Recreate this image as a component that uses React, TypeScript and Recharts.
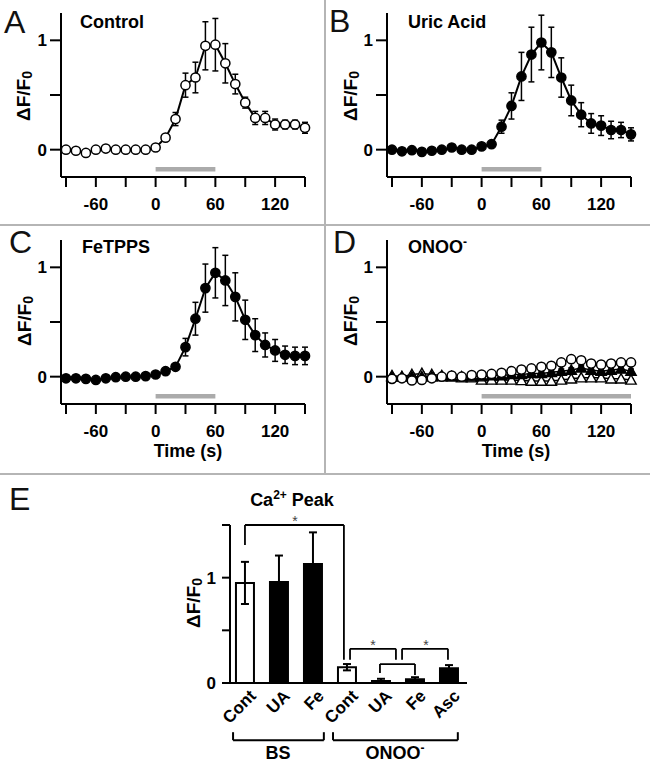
import React from 'react';
import { ComposedChart, Line, XAxis, YAxis, ErrorBar, ReferenceLine, BarChart, Bar, Cell, LabelList } from 'recharts';

const FONT = '"Liberation Sans", Arial, Helvetica, sans-serif';

// ---------- time-course data (s) ----------
const timeSec = [-90, -80, -70, -60, -50, -40, -30, -20, -10, 0, 10, 20, 30, 40, 50, 60, 70, 80, 90, 100, 110, 120, 130, 140, 150];
const xTicks = [-90, -60, -30, 0, 30, 60, 90, 120, 150];
const xTickLabels = [-60, 0, 60, 120];
const yTicks = [0, 0.5, 1];
const yTickLabels = [0, 1];

const controlMean = [0, -0.01, -0.03, 0, 0.01, 0, 0, 0, 0, 0.02, 0.11, 0.28, 0.59, 0.66, 0.95, 0.96, 0.79, 0.6, 0.43, 0.29, 0.29, 0.23, 0.23, 0.23, 0.2];
const controlErr = [0.01, 0.01, 0.01, 0.01, 0.01, 0.01, 0.01, 0.01, 0.01, 0.01, 0.02, 0.06, 0.11, 0.14, 0.22, 0.24, 0.18, 0.09, 0.05, 0.06, 0.06, 0.05, 0.04, 0.04, 0.05];

const uricMean = [0, -0.015, -0.005, -0.02, -0.01, 0, 0.02, 0, 0, 0.03, 0.05, 0.21, 0.4, 0.67, 0.87, 0.98, 0.89, 0.66, 0.45, 0.32, 0.24, 0.22, 0.18, 0.18, 0.14];
const uricErr = [0.01, 0.01, 0.01, 0.01, 0.01, 0.01, 0.01, 0.01, 0.01, 0.01, 0.02, 0.06, 0.12, 0.22, 0.25, 0.25, 0.23, 0.18, 0.14, 0.11, 0.09, 0.09, 0.08, 0.07, 0.06];

const feMean = [-0.015, -0.015, -0.02, -0.03, -0.015, -0.005, 0, 0, 0.005, 0.02, 0.05, 0.09, 0.27, 0.53, 0.81, 0.95, 0.88, 0.73, 0.52, 0.38, 0.29, 0.24, 0.2, 0.19, 0.19];
const feErr = [0.01, 0.01, 0.01, 0.01, 0.01, 0.01, 0.01, 0.01, 0.01, 0.01, 0.01, 0.02, 0.08, 0.15, 0.22, 0.23, 0.23, 0.22, 0.18, 0.15, 0.11, 0.1, 0.08, 0.08, 0.08];

const onooCircleMean = [-0.02, -0.015, -0.035, -0.03, -0.015, 0, 0.01, 0, 0.015, 0.02, 0.025, 0.035, 0.05, 0.065, 0.075, 0.09, 0.1, 0.13, 0.16, 0.15, 0.12, 0.11, 0.12, 0.13, 0.13];
const onooCircleErr = [0.01, 0.01, 0.01, 0.01, 0.01, 0.01, 0.01, 0.01, 0.01, 0.02, 0.02, 0.02, 0.03, 0.03, 0.03, 0.03, 0.03, 0.03, 0.03, 0.03, 0.03, 0.03, 0.03, 0.03, 0.03];
const onooFilledTriMean = [0, 0, 0, 0, 0, 0, 0, 0, 0, 0, 0.01, 0.01, 0.02, 0.02, 0.03, 0.03, 0.04, 0.05, 0.06, 0.08, 0.06, 0.05, 0.06, 0.07, 0.05];
const onooFilledTriErr = [0.01, 0.01, 0.01, 0.01, 0.01, 0.01, 0.01, 0.01, 0.01, 0.01, 0.02, 0.02, 0.02, 0.02, 0.02, 0.02, 0.02, 0.02, 0.02, 0.02, 0.02, 0.02, 0.02, 0.02, 0.02];
const onooOpenTriMean = [0.01, 0, 0.02, 0.03, 0.02, 0.01, 0, -0.01, -0.01, -0.03, -0.03, -0.03, -0.03, -0.035, -0.04, -0.04, -0.04, -0.03, -0.02, -0.01, -0.01, -0.01, -0.02, -0.02, -0.03];
const onooOpenTriErr = [0.01, 0.01, 0.01, 0.01, 0.01, 0.01, 0.01, 0.01, 0.01, 0.01, 0.01, 0.01, 0.01, 0.01, 0.01, 0.01, 0.01, 0.01, 0.01, 0.01, 0.01, 0.01, 0.01, 0.01, 0.01];

// stimulus application (s)
const stimShort = [0, 60];
const stimLong = [0, 150];
const stimLevel = -0.18;

// ---------- peak data (panel E) ----------
const peakLabels = ['Cont', 'UA', 'Fe', 'Cont', 'UA', 'Fe', 'Asc'];
const peakPos = [1, 2, 3, 4, 5, 6, 7];
const peakMean = [0.95, 0.96, 1.13, 0.15, 0.02, 0.035, 0.14];
const peakErr = [0.2, 0.25, 0.3, 0.03, 0.02, 0.02, 0.03];
const peakTicks = [0, 0.5, 1, 1.5];
const peakTickLabels = [0, 1];

// significance brackets: [x1, x2, top, leftEnd, rightEnd]
const sigBrackets = [
  [1.0, 3.91, 1.5, 1.31, 0.22],
  [4.09, 5.44, 0.324, 0.22, 0.22],
  [4.97, 6.0, 0.18, 0.095, 0.076],
  [5.62, 6.97, 0.324, 0.22, 0.22],
];
// group brackets below axis: [x1, x2]
const groupBrackets = [
  [0.65, 3.32],
  [3.59, 7.26],
];
const groupLevel = -0.543;
const groupEnd = -0.467;

type Spec = { key: string; mean: number[]; err: number[]; shape: 'circle' | 'triangle'; filled: boolean; lw: number };

function makeDot(shape: 'circle' | 'triangle', filled: boolean) {
  return (p: any) => {
    const { cx, cy, index } = p;
    if (cx == null || cy == null) return <g key={`n${index}`} />;
    const fill = filled ? '#000' : '#fff';
    if (shape === 'circle') {
      return <circle key={`c${index}`} cx={cx} cy={cy} r={4.6} fill={fill} stroke="#000" strokeWidth={1.5} />;
    }
    const s = 5.2;
    return (
      <path
        key={`t${index}`}
        d={`M${cx},${cy - s} L${cx + s},${cy + s * 0.8} L${cx - s},${cy + s * 0.8} Z`}
        fill={fill}
        stroke="#000"
        strokeWidth={1.4}
      />
    );
  };
}

const tickStyle = { fill: '#000', fontSize: 17, fontWeight: 700, fontFamily: FONT };
const axisStyle = { stroke: '#000', strokeWidth: 2 };

function TimePanel({ series, stim }: { series: Spec[]; stim: number[] }) {
  const rows = timeSec.map((t, i) => {
    const r: any = { t };
    series.forEach((s) => {
      r[s.key] = s.mean[i];
      r[s.key + 'E'] = s.err[i];
    });
    return r;
  });
  return (
    <ComposedChart width={325} height={225} data={rows} margin={{ top: 13, right: 20, bottom: 8, left: 0 }}>
      <XAxis
        type="number"
        dataKey="t"
        domain={[-95, 150]}
        ticks={xTicks}
        interval={0}
        tickFormatter={(v: number) => (xTickLabels.includes(v) ? String(v) : '')}
        tickSize={10}
        tickMargin={11}
        height={40}
        axisLine={axisStyle}
        tickLine={axisStyle}
        tick={tickStyle}
      />
      <YAxis
        type="number"
        domain={[-0.25, 1.25]}
        ticks={yTicks}
        interval={0}
        tickFormatter={(v: number) => (yTickLabels.includes(v) ? String(v) : '')}
        width={61}
        tickSize={11}
        tickMargin={3}
        axisLine={axisStyle}
        tickLine={axisStyle}
        tick={tickStyle}
      />
      <ReferenceLine
        segment={[{ x: stim[0], y: stimLevel }, { x: stim[1], y: stimLevel }]}
        stroke="#ababab"
        strokeWidth={4.5}
        ifOverflow="visible"
      />
      {series.map((s) => (
        <Line
          key={s.key}
          dataKey={s.key}
          type="linear"
          stroke="#000"
          strokeWidth={s.lw}
          dot={makeDot(s.shape, s.filled)}
          activeDot={false}
          isAnimationActive={false}
        >
          <ErrorBar dataKey={s.key + 'E'} direction="y" width={3} stroke="#000" strokeWidth={1.5} />
        </Line>
      ))}
    </ComposedChart>
  );
}

// rotated category label placed under each bar (uses the bar geometry from the library)
const renderCatLabel = (props: any) => {
  const { x, y, width, height, value, index } = props;
  const ax = Number(x) + Number(width) / 2 + 12;
  const ay = Number(y) + Number(height) + 14;
  return (
    <text
      key={`cl${index}`}
      x={ax}
      y={ay}
      transform={`rotate(-45, ${ax}, ${ay})`}
      textAnchor="end"
      fill="#000"
      fontSize={17}
      fontWeight={700}
      fontFamily={FONT}
    >
      {value}
    </text>
  );
};

function PeakPanel() {
  const rows = peakPos.map((p, i) => ({ pos: p, v: peakMean[i], e: peakErr[i], name: peakLabels[i] }));
  const lines: any[] = [];
  sigBrackets.forEach((b, i) => {
    const [x1, x2, top, l, r] = b;
    lines.push(<ReferenceLine key={`s${i}a`} segment={[{ x: x1, y: l }, { x: x1, y: top }]} stroke="#000" strokeWidth={1.8} ifOverflow="visible" />);
    lines.push(<ReferenceLine key={`s${i}b`} segment={[{ x: x1, y: top }, { x: x2, y: top }]} stroke="#000" strokeWidth={1.8} ifOverflow="visible" />);
    lines.push(<ReferenceLine key={`s${i}c`} segment={[{ x: x2, y: top }, { x: x2, y: r }]} stroke="#000" strokeWidth={1.8} ifOverflow="visible" />);
  });
  groupBrackets.forEach((g, i) => {
    const [x1, x2] = g;
    lines.push(<ReferenceLine key={`g${i}a`} segment={[{ x: x1, y: groupEnd }, { x: x1, y: groupLevel }]} stroke="#000" strokeWidth={2} ifOverflow="visible" />);
    lines.push(<ReferenceLine key={`g${i}b`} segment={[{ x: x1, y: groupLevel }, { x: x2, y: groupLevel }]} stroke="#000" strokeWidth={2} ifOverflow="visible" />);
    lines.push(<ReferenceLine key={`g${i}c`} segment={[{ x: x2, y: groupLevel }, { x: x2, y: groupEnd }]} stroke="#000" strokeWidth={2} ifOverflow="visible" />);
  });
  return (
    <BarChart width={650} height={300} data={rows} margin={{ top: 50, right: 183, bottom: 32, left: 0 }}>
      <XAxis
        type="number"
        dataKey="pos"
        domain={[0.56, 7.53]}
        ticks={peakPos}
        interval={0}
        tickLine={false}
        tick={false}
        height={60}
        axisLine={axisStyle}
      />
      <YAxis
        type="number"
        domain={[0, 1.5]}
        ticks={peakTicks}
        interval={0}
        tickFormatter={(v: number) => (peakTickLabels.includes(v) ? String(v) : '')}
        width={230}
        tickSize={8}
        tickMargin={6}
        axisLine={axisStyle}
        tickLine={axisStyle}
        tick={tickStyle}
      />
      <Bar dataKey="v" barSize={18} stroke="#000" strokeWidth={2} isAnimationActive={false}>
        {rows.map((r, i) => (
          <Cell key={i} fill={r.name === 'Cont' ? '#fff' : '#000'} />
        ))}
        <ErrorBar dataKey="e" direction="y" width={4} stroke="#000" strokeWidth={2} />
        <LabelList dataKey="name" content={renderCatLabel} />
      </Bar>
      {lines}
    </BarChart>
  );
}

const yLabel = (cx: number, cy: number, key: string) => (
  <text
    key={key}
    transform={`translate(${cx} ${cy}) rotate(-90)`}
    textAnchor="middle"
    dominantBaseline="central"
    fontSize={19}
    fontWeight={700}
    fontFamily={FONT}
    fill="#000"
  >
    ΔF/F<tspan dy={4} fontSize={14}>0</tspan>
  </text>
);

export default function App() {
  const specA: Spec[] = [{ key: 'ctl', mean: controlMean, err: controlErr, shape: 'circle', filled: false, lw: 2 }];
  const specB: Spec[] = [{ key: 'ua', mean: uricMean, err: uricErr, shape: 'circle', filled: true, lw: 2 }];
  const specC: Spec[] = [{ key: 'fe', mean: feMean, err: feErr, shape: 'circle', filled: true, lw: 2 }];
  const specD: Spec[] = [
    { key: 'ot', mean: onooOpenTriMean, err: onooOpenTriErr, shape: 'triangle', filled: false, lw: 1.5 },
    { key: 'ft', mean: onooFilledTriMean, err: onooFilledTriErr, shape: 'triangle', filled: true, lw: 1.5 },
    { key: 'oc', mean: onooCircleMean, err: onooCircleErr, shape: 'circle', filled: false, lw: 1.5 },
  ];
  const letter = { fontSize: 32, fontFamily: FONT, fill: '#111' } as any;
  const title = { fontSize: 18, fontWeight: 700, fontFamily: FONT, fill: '#000' } as any;
  return (
    <div style={{ position: 'absolute', left: 0, top: 0, width: 650, height: 775, overflow: 'hidden', background: '#fff' }}>
      <div style={{ position: 'absolute', left: 0, top: 0 }}>
        <TimePanel series={specA} stim={stimShort} />
      </div>
      <div style={{ position: 'absolute', left: 326, top: 0 }}>
        <TimePanel series={specB} stim={stimShort} />
      </div>
      <div style={{ position: 'absolute', left: 0, top: 227 }}>
        <TimePanel series={specC} stim={stimShort} />
      </div>
      <div style={{ position: 'absolute', left: 326, top: 227 }}>
        <TimePanel series={specD} stim={stimLong} />
      </div>
      <div style={{ position: 'absolute', left: 0, top: 475 }}>
        <PeakPanel />
      </div>
      <svg width={650} height={775} style={{ position: 'absolute', left: 0, top: 0, pointerEvents: 'none' }}>
        <line x1={325} y1={0} x2={325} y2={474} stroke="#b5b5b5" strokeWidth={2} />
        <line x1={0} y1={225} x2={650} y2={225} stroke="#b5b5b5" strokeWidth={2} />
        <line x1={0} y1={474} x2={650} y2={474} stroke="#b5b5b5" strokeWidth={2} />

        <text x={4} y={33} {...letter}>A</text>
        <text x={329} y={32} {...letter}>B</text>
        <text x={9} y={253} {...letter}>C</text>
        <text x={333} y={253} {...letter}>D</text>
        <text x={9} y={510} {...letter}>E</text>

        <text x={80} y={28} {...title}>Control</text>
        <text x={408} y={28} {...title}>Uric Acid</text>
        <text x={82} y={253} {...title}>FeTPPS</text>
        <text x={408} y={253} {...title}>
          ONOO<tspan dy={-7} fontSize={12}>-</tspan>
        </text>

        {yLabel(23, 96, 'ya')}
        {yLabel(350, 96, 'yb')}
        {yLabel(24, 321, 'yc')}
        {yLabel(350, 321, 'yd')}
        {yLabel(193, 603, 'ye')}

        <text x={188} y={457} textAnchor="middle" {...title}>Time (s)</text>
        <text x={516} y={457} textAnchor="middle" {...title}>Time (s)</text>

        <text x={292} y={506} textAnchor="middle" {...title}>
          Ca<tspan dy={-7} fontSize={12}>2+</tspan>
          <tspan dy={7}> Peak</tspan>
        </text>

        <text x={295} y={526} textAnchor="middle" fontSize={14} fontFamily={FONT} fill="#444">*</text>
        <text x={373} y={650} textAnchor="middle" fontSize={14} fontFamily={FONT} fill="#444">*</text>
        <text x={426} y={650} textAnchor="middle" fontSize={14} fontFamily={FONT} fill="#444">*</text>

        <text x={278} y={759} textAnchor="middle" {...title}>BS</text>
        <text x={395} y={759} textAnchor="middle" {...title}>
          ONOO<tspan dy={-7} fontSize={12}>-</tspan>
        </text>
      </svg>
    </div>
  );
}
